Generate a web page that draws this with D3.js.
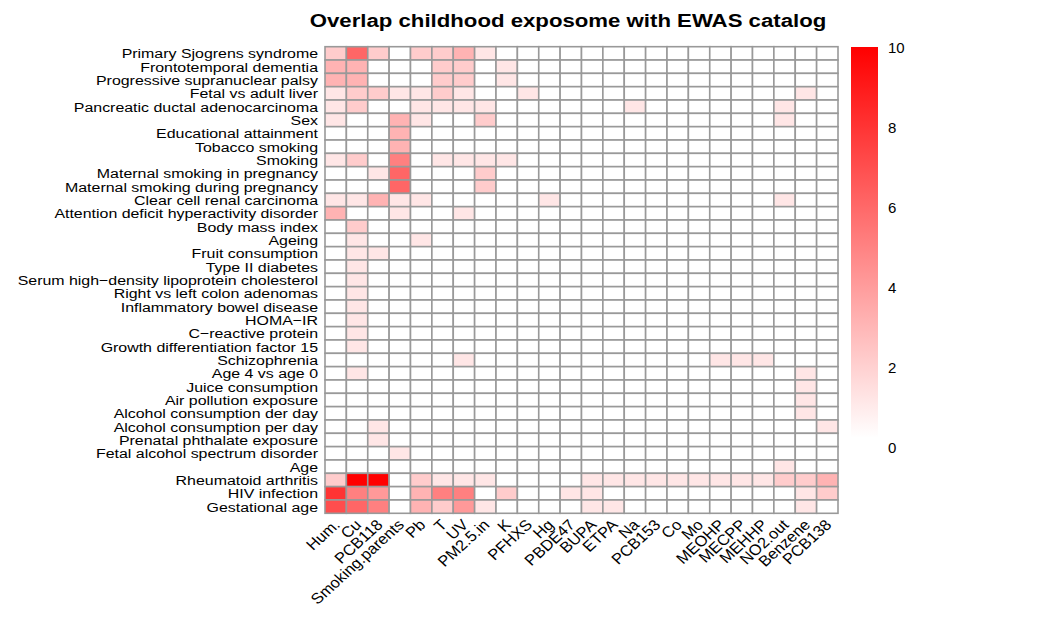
<!DOCTYPE html>
<meta charset="utf-8">
<style>
  body { margin: 0; background: #fff; font-family: "Liberation Sans", Arial, sans-serif; }
  text { fill: #000; }
</style>
<body>
<svg id="chart" width="1054" height="618"></svg>
<script src="https://d3js.org/d3.v7.min.js"></script>
<script>

var title = "Overlap childhood exposome with EWAS catalog"

var exposures = ["Hum.", "Cu", "PCB118", "Smoking.parents", "Pb", "T", "UV", "PM2.5.in", "K", "PFHXS",
  "Hg", "PBDE47", "BUPA", "ETPA", "Na", "PCB153", "Co", "Mo", "MEOHP", "MECPP", "MEHHP",
  "NO2.out", "Benzene", "PCB138"]

var traits = ["Primary Sjogrens syndrome", "Frontotemporal dementia", "Progressive supranuclear palsy",
  "Fetal vs adult liver", "Pancreatic ductal adenocarcinoma", "Sex", "Educational attainment",
  "Tobacco smoking", "Smoking", "Maternal smoking in pregnancy", "Maternal smoking during pregnancy",
  "Clear cell renal carcinoma", "Attention deficit hyperactivity disorder", "Body mass index", "Ageing",
  "Fruit consumption", "Type II diabetes", "Serum high\u2212density lipoprotein cholesterol",
  "Right vs left colon adenomas", "Inflammatory bowel disease", "HOMA\u2212IR", "C\u2212reactive protein",
  "Growth differentiation factor 15", "Schizophrenia", "Age 4 vs age 0", "Juice consumption",
  "Air pollution exposure", "Alcohol consumption der day", "Alcohol consumption per day",
  "Prenatal phthalate exposure", "Fetal alcohol spectrum disorder", "Age", "Rheumatoid arthritis",
  "HIV infection", "Gestational age"]

// one row per trait, one value per exposure (same order as exposures)
var counts = [
  [2, 6, 2, 0, 2, 2, 3, 1, 0, 0, 0, 0, 0, 0, 0, 0, 0, 0, 0, 0, 0, 0, 0, 0],
  [3, 3, 0, 0, 0, 2, 2, 0, 1, 0, 0, 0, 0, 0, 0, 0, 0, 0, 0, 0, 0, 0, 0, 0],
  [3, 3, 0, 0, 0, 2, 2, 0, 1, 0, 0, 0, 0, 0, 0, 0, 0, 0, 0, 0, 0, 0, 0, 0],
  [1, 2, 2, 1, 1, 2, 1, 0, 0, 1, 0, 0, 0, 0, 0, 0, 0, 0, 0, 0, 0, 0, 1, 0],
  [1, 2, 0, 0, 1, 1, 1, 1, 0, 0, 0, 0, 0, 0, 1, 0, 0, 0, 0, 0, 0, 1, 0, 0],
  [1, 0, 0, 3, 1, 0, 0, 2, 0, 0, 0, 0, 0, 0, 0, 0, 0, 0, 0, 0, 0, 1, 0, 0],
  [0, 0, 0, 3, 0, 0, 0, 0, 0, 0, 0, 0, 0, 0, 0, 0, 0, 0, 0, 0, 0, 0, 0, 0],
  [0, 0, 0, 3, 0, 0, 0, 0, 0, 0, 0, 0, 0, 0, 0, 0, 0, 0, 0, 0, 0, 0, 0, 0],
  [1, 2, 0, 5, 0, 1, 1, 1, 1, 0, 0, 0, 0, 0, 0, 0, 0, 0, 0, 0, 0, 0, 0, 0],
  [0, 0, 1, 6, 0, 0, 0, 2, 0, 0, 0, 0, 0, 0, 0, 0, 0, 0, 0, 0, 0, 0, 0, 0],
  [0, 0, 0, 6, 0, 0, 0, 2, 0, 0, 0, 0, 0, 0, 0, 0, 0, 0, 0, 0, 0, 0, 0, 0],
  [1, 1, 3, 1, 1, 0, 0, 0, 0, 0, 1, 0, 0, 0, 0, 0, 0, 0, 0, 0, 0, 1, 0, 0],
  [3, 0, 0, 1, 0, 0, 1, 0, 0, 0, 0, 0, 0, 0, 0, 0, 0, 0, 0, 0, 0, 0, 0, 0],
  [0, 2, 0, 0, 0, 0, 0, 0, 0, 0, 0, 0, 0, 0, 0, 0, 0, 0, 0, 0, 0, 0, 0, 0],
  [0, 1, 0, 0, 1, 0, 0, 0, 0, 0, 0, 0, 0, 0, 0, 0, 0, 0, 0, 0, 0, 0, 0, 0],
  [0, 1, 1, 0, 0, 0, 0, 0, 0, 0, 0, 0, 0, 0, 0, 0, 0, 0, 0, 0, 0, 0, 0, 0],
  [0, 1, 0, 0, 0, 0, 0, 0, 0, 0, 0, 0, 0, 0, 0, 0, 0, 0, 0, 0, 0, 0, 0, 0],
  [0, 1, 0, 0, 0, 0, 0, 0, 0, 0, 0, 0, 0, 0, 0, 0, 0, 0, 0, 0, 0, 0, 0, 0],
  [0, 1, 0, 0, 0, 0, 0, 0, 0, 0, 0, 0, 0, 0, 0, 0, 0, 0, 0, 0, 0, 0, 0, 0],
  [0, 1, 0, 0, 0, 0, 0, 0, 0, 0, 0, 0, 0, 0, 0, 0, 0, 0, 0, 0, 0, 0, 0, 0],
  [0, 1, 0, 0, 0, 0, 0, 0, 0, 0, 0, 0, 0, 0, 0, 0, 0, 0, 0, 0, 0, 0, 0, 0],
  [0, 1, 0, 0, 0, 0, 0, 0, 0, 0, 0, 0, 0, 0, 0, 0, 0, 0, 0, 0, 0, 0, 0, 0],
  [0, 1, 0, 0, 0, 0, 0, 0, 0, 0, 0, 0, 0, 0, 0, 0, 0, 0, 0, 0, 0, 0, 0, 0],
  [0, 0, 0, 0, 0, 0, 1, 0, 0, 0, 0, 0, 0, 0, 0, 0, 0, 0, 1, 1, 1, 0, 0, 0],
  [0, 1, 0, 0, 0, 0, 0, 0, 0, 0, 0, 0, 0, 0, 0, 0, 0, 0, 0, 0, 0, 0, 1, 0],
  [0, 0, 0, 0, 0, 0, 0, 0, 0, 0, 0, 0, 0, 0, 0, 0, 0, 0, 0, 0, 0, 0, 1, 0],
  [0, 0, 0, 0, 0, 0, 0, 0, 0, 0, 0, 0, 0, 0, 0, 0, 0, 0, 0, 0, 0, 0, 1, 0],
  [0, 0, 0, 0, 0, 0, 0, 0, 0, 0, 0, 0, 0, 0, 0, 0, 0, 0, 0, 0, 0, 0, 1, 0],
  [0, 0, 1, 0, 0, 0, 0, 0, 0, 0, 0, 0, 0, 0, 0, 0, 0, 0, 0, 0, 0, 0, 0, 1],
  [0, 0, 1, 0, 0, 0, 0, 0, 0, 0, 0, 0, 0, 0, 0, 0, 0, 0, 0, 0, 0, 0, 0, 0],
  [0, 0, 0, 1, 0, 0, 0, 0, 0, 0, 0, 0, 0, 0, 0, 0, 0, 0, 0, 0, 0, 0, 0, 0],
  [0, 0, 0, 0, 0, 0, 0, 0, 0, 0, 0, 0, 0, 0, 0, 0, 0, 0, 0, 0, 0, 1, 0, 0],
  [2, 10, 10, 0, 2, 1, 1, 1, 0, 0, 0, 0, 1, 1, 1, 1, 1, 1, 1, 1, 1, 2, 2, 3],
  [8, 5, 4, 0, 3, 5, 5, 0, 2, 0, 0, 1, 1, 0, 0, 0, 0, 0, 0, 0, 0, 0, 1, 2],
  [7, 6, 5, 0, 3, 2, 4, 1, 0, 0, 0, 0, 1, 1, 0, 0, 0, 0, 0, 0, 0, 0, 1, 0]
]

var legendTicks = [0, 2, 4, 6, 8, 10]

var svg = d3.select('#chart')

var x = d3.scaleBand().domain(exposures).range([325, 838])
var y = d3.scaleBand().domain(traits).range([46.7, 513.3])
var color = d3.scaleLinear().domain([0, 10]).range(['#ffffff', '#ff0000'])

var cells = []
traits.forEach(function (t, i) {
  exposures.forEach(function (e, j) {
    cells.push({ trait: t, exposure: e, value: counts[i][j] })
  })
})

// heatmap cells
svg.append('g').selectAll('rect')
  .data(cells)
  .enter().append('rect')
  .attr('x', function (d) { return x(d.exposure) })
  .attr('y', function (d) { return y(d.trait) })
  .attr('width', x.bandwidth())
  .attr('height', y.bandwidth())
  .attr('fill', function (d) { return color(d.value) })
  .attr('stroke', '#999999')
  .attr('stroke-width', 1.6)

// row labels (glyphs a bit wide, like the original device)
svg.append('g').selectAll('text')
  .data(traits)
  .enter().append('text')
  .attr('transform', function (d) {
    return 'translate(318,' + (y(d) + y.bandwidth() / 2) + ') scale(1.18,1)'
  })
  .attr('dy', '0.36em')
  .attr('text-anchor', 'end')
  .attr('font-size', 13.5)
  .text(function (d) { return d })

// column labels, rotated
svg.append('g').selectAll('text')
  .data(exposures)
  .enter().append('text')
  .attr('transform', function (d) {
    return 'translate(' + (x(d) + x.bandwidth() / 2) + ',' + 521 + ') scale(1.1,1) rotate(-45)'
  })
  .attr('text-anchor', 'end')
  .attr('dy', '0.45em')
  .attr('font-size', 15)
  .text(function (d) { return d })

// title
svg.append('text')
  .attr('transform', 'translate(568,27) scale(1.2,1)')
  .attr('text-anchor', 'middle')
  .attr('font-size', 18.5)
  .attr('font-weight', 'bold')
  .text(title)

// colour legend
var defs = svg.append('defs')
var grad = defs.append('linearGradient')
  .attr('id', 'legendGrad')
  .attr('x1', 0).attr('y1', 1).attr('x2', 0).attr('y2', 0)
grad.append('stop').attr('offset', '0%').attr('stop-color', color(0))
grad.append('stop').attr('offset', '100%').attr('stop-color', color(10))

var legendY = d3.scaleLinear().domain([0, 10]).range([448, 48])

svg.append('rect')
  .attr('x', 851)
  .attr('y', legendY(10) - 1)
  .attr('width', 27)
  .attr('height', 438 - legendY(10) + 1)
  .attr('fill', 'url(#legendGrad)')

svg.append('g').selectAll('text')
  .data(legendTicks)
  .enter().append('text')
  .attr('x', 888)
  .attr('y', function (d) { return legendY(d) })
  .attr('dy', '0.36em')
  .attr('font-size', 15)
  .text(function (d) { return d })

</script>
</body>
